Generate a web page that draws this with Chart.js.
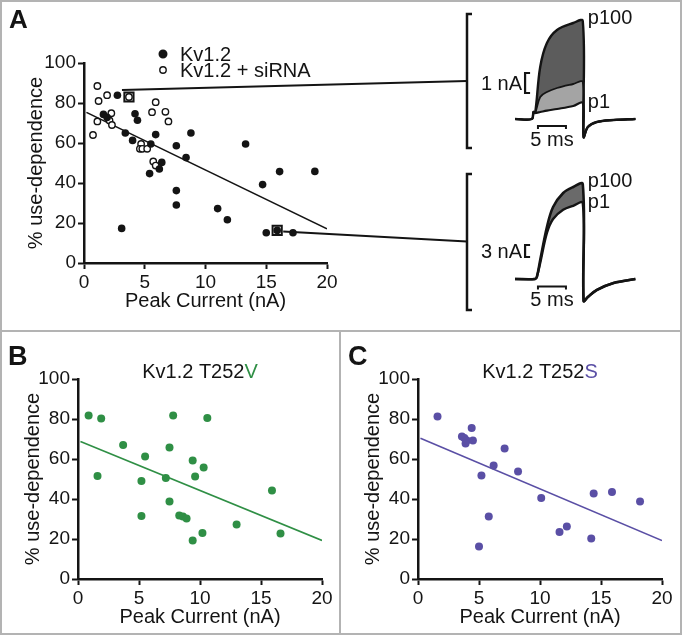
<!DOCTYPE html>
<html>
<head>
<meta charset="utf-8">
<title>Use-dependence vs peak current</title>
<script src="https://cdn.jsdelivr.net/npm/chart.js@4.4.1/dist/chart.umd.min.js"></script>
<style>
  body { margin: 0; background: #fff; }
  #wrap { position: relative; width: 682px; height: 635px; overflow: hidden; background: #fff; }
  canvas { position: absolute; }
  .rule { position: absolute; background: #b3b3b3; }
</style>
</head>
<body>
<div id="wrap">
  <canvas id="chartA" width="480" height="330" style="left:0;top:0"></canvas>
  <canvas id="traceTop" width="212" height="165" style="left:470px;top:0"></canvas>
  <canvas id="traceBottom" width="212" height="160" style="left:470px;top:160px"></canvas>
  <canvas id="chartB" width="340" height="304" style="left:0;top:331px"></canvas>
  <canvas id="chartC" width="342" height="304" style="left:340px;top:331px"></canvas>
  <div class="rule" style="left:0;top:0;width:682px;height:2px"></div>
  <div class="rule" style="left:0;top:0;width:2px;height:635px"></div>
  <div class="rule" style="left:680px;top:0;width:2px;height:635px"></div>
  <div class="rule" style="left:0;top:633px;width:682px;height:2px"></div>
  <div class="rule" style="left:0;top:330px;width:682px;height:2px"></div>
  <div class="rule" style="left:339px;top:331px;width:2px;height:304px"></div>
</div>
<script>
// ---- panel A: Kv1.2 (filled) and Kv1.2 + siRNA (open) ----
const kvCurrent = [2.75, 1.6, 1.9, 4.2, 4.4, 3.4, 4.0, 5.5, 5.9, 8.8, 7.6, 8.4, 13.3, 5.4, 6.2, 6.4, 14.7, 16.1, 19.0, 7.6, 7.6, 11.0, 11.8, 3.1, 15.0, 15.9, 17.2];
const kvUse     = [83.9, 74.3, 72.8, 74.6, 71.4, 65, 61.3, 59.5, 64.2, 65, 58.6, 52.7, 59.5, 44.7, 47, 50.3, 39.2, 45.7, 45.8, 36.2, 29, 27.2, 21.6, 17.3, 15.1, 16.3, 15.1];
const siCurrent = [1.1, 1.2, 1.9, 3.7, 1.1, 2.25, 2.1, 2.3, 0.74, 5.6, 5.9, 6.7, 6.95, 4.7, 4.6, 4.8, 5.2, 5.7, 5.9];
const siUse     = [88.5, 81, 83.9, 83, 70.8, 74.9, 71.3, 69, 64, 75.4, 80.4, 75.6, 70.8, 59.5, 57.1, 57.1, 57.1, 50.8, 48.7];
const boxCurrent = [3.7, 15.9];   // cells whose traces are shown on the right
const boxUse     = [83, 16.3];
const fitACurrent = [0.2, 20];
const fitAUse     = [75.3, 17.1];

// ---- panel B: Kv1.2 T252V ----
const vCurrent = [0.87, 1.9, 1.6, 3.7, 5.5, 5.2, 5.2, 7.8, 7.5, 7.2, 7.5, 8.3, 8.6, 8.9, 9.4, 9.6, 9.4, 10.6, 10.3, 10.2, 13.0, 15.9, 16.6];
const vUse     = [81.7, 80.3, 51.5, 67, 61.2, 49, 31.5, 81.7, 65.7, 50.5, 38.8, 31.7, 31.3, 30.2, 59.3, 51.3, 19.3, 80.5, 55.7, 23, 27.2, 44.2, 22.7];
const fitVCurrent = [0.2, 20];
const fitVUse     = [68.7, 19.3];

// ---- panel C: Kv1.2 T252S ----
const sCurrent = [1.6, 3.6, 3.8, 4.0, 3.9, 4.4, 4.5, 5.2, 5.0, 5.8, 6.2, 7.1, 8.2, 10.1, 11.6, 12.2, 14.2, 14.4, 15.9, 18.2];
const sUse     = [81.3, 71.2, 70.5, 69.3, 67.7, 75.5, 69.3, 51.7, 16.2, 31.2, 56.8, 65.3, 53.7, 40.5, 23.5, 26.2, 20.3, 42.8, 43.5, 38.7];
const fitSCurrent = [0.2, 20];
const fitSUse     = [70.4, 19.2];

// ---- example current traces (time in ms, current in nA) ----
const topTime  = [0, 3.0, 3.3, 3.6, 4.5, 5.7, 7.5, 10.4, 12.1, 12.25, 13.0, 14.6, 17.6, 21.5];
const topP100  = [0, 0, 0.35, 0.3, 2.6, 3.8, 4.45, 4.8, 4.9, -0.9, -0.4, -0.15, -0.05, 0];
const topMid   = [0, 0, 0.35, 0.3, 1.1, 1.35, 1.55, 1.75, 1.85, -0.9, -0.4, -0.15, -0.05, 0];
const topP1    = [0, 0, 0.35, 0.3, 0.35, 0.42, 0.5, 0.65, 0.8, -0.9, -0.4, -0.15, -0.05, 0];
const botTime  = [0, 3.6, 3.9, 4.5, 5.7, 6.8, 8.6, 10.4, 12.1, 12.25, 13.0, 14.6, 17.6, 21.5];
const botP100  = [0, 0, 0.5, 4.75, 13, 18, 21.5, 23, 23.75, -5.5, -4.5, -2.75, -1, 0];
const botP1    = [0, 0, 0.5, 4, 11.5, 15, 17.3, 18.3, 19, -5.5, -4.5, -2.75, -1, 0];

const INK = '#141414';
const GREEN = '#2f8f45';
const PURPLE = '#5a4fa5';
const FONT = "'Liberation Sans', Arial, Helvetica, sans-serif";

const pts = (xs, ys) => xs.map((x, i) => ({ x: x, y: ys[i] }));

function panelScales(yWidth, xHeight, yTitlePad, xTitlePad) {
  const grid = { drawOnChartArea: false, tickLength: 6, tickWidth: 2, tickColor: INK };
  const border = { width: 2.5, color: INK };
  const tickFont = { family: FONT, size: 19 };
  const titleFont = { family: FONT, size: 20 };
  return {
    x: {
      type: 'linear', min: 0, max: 20,
      grid: grid, border: border,
      ticks: { stepSize: 5, color: INK, font: tickFont, padding: 2, maxRotation: 0 },
      title: { display: true, text: 'Peak Current (nA)', color: INK, font: titleFont, padding: { top: 0, bottom: xTitlePad } },
      afterFit(s) { s.height = xHeight; }
    },
    y: {
      type: 'linear', min: 0, max: 100,
      grid: grid, border: border,
      ticks: { stepSize: 20, color: INK, font: tickFont, padding: 2 },
      title: { display: true, text: '% use-dependence', color: INK, font: titleFont, padding: { top: yTitlePad, bottom: 0 } },
      afterFit(s) { s.width = yWidth; }
    }
  };
}

function fitLine(label, xs, ys, color) {
  return { label: label, data: pts(xs, ys), showLine: true, borderColor: color, borderWidth: 1.6, pointRadius: 0, fill: false };
}

// title + panel letter for B and C
function headerPlugin(letter, base, accent, color) {
  return {
    id: 'header' + letter,
    afterDraw(chart) {
      const { ctx, chartArea } = chart;
      ctx.save();
      ctx.fillStyle = INK;
      ctx.textAlign = 'left';
      ctx.textBaseline = 'alphabetic';
      ctx.font = `bold 27px ${FONT}`;
      ctx.fillText(letter, 8, 34);
      ctx.font = `20px ${FONT}`;
      const w1 = ctx.measureText(base).width;
      const w2 = ctx.measureText(accent).width;
      const cx = (chartArea.left + chartArea.right) / 2;
      const x0 = cx - (w1 + w2) / 2;
      ctx.fillText(base, x0, 47);
      ctx.fillStyle = color;
      ctx.fillText(accent, x0 + w1, 47);
      ctx.restore();
    }
  };
}

// ---- panel A extras: letter, legend, brackets and connectors to traces ----
const panelAExtras = {
  id: 'panelAExtras',
  afterDraw(chart) {
    const { ctx, chartArea, scales } = chart;
    const ds = chart.data.datasets;
    ctx.save();
    ctx.fillStyle = INK;
    ctx.textAlign = 'left';
    ctx.textBaseline = 'alphabetic';
    ctx.font = `bold 26px ${FONT}`;
    ctx.fillText('A', 9, 28);

    // legend
    ctx.font = `20px ${FONT}`;
    ctx.textBaseline = 'middle';
    const lx = chartArea.left + 79;
    [[0, 54], [1, 70]].forEach(([i, ly]) => {
      ctx.beginPath();
      ctx.arc(lx, ly, i === 0 ? 3.8 : 3.2, 0, Math.PI * 2);
      ctx.fillStyle = ds[i].backgroundColor;
      ctx.fill();
      ctx.lineWidth = 1.4;
      ctx.strokeStyle = INK;
      ctx.stroke();
      ctx.fillStyle = INK;
      ctx.fillText(ds[i].label, lx + 17, ly + 1);
    });

    // brackets that group each trace pair
    ctx.strokeStyle = INK;
    ctx.lineWidth = 2.5;
    [[14, 148], [174, 310]].forEach(([t, b]) => {
      ctx.beginPath();
      ctx.moveTo(472, t); ctx.lineTo(467, t); ctx.lineTo(467, b); ctx.lineTo(472, b);
      ctx.stroke();
    });

    // connectors from the boxed cells
    const bx0 = scales.x.getPixelForValue(boxCurrent[0]);
    const by0 = scales.y.getPixelForValue(boxUse[0]);
    const bx1 = scales.x.getPixelForValue(boxCurrent[1]);
    const by1 = scales.y.getPixelForValue(boxUse[1]);
    ctx.lineWidth = 2;
    ctx.beginPath(); ctx.moveTo(bx0 - 7, by0 - 7); ctx.lineTo(467, 81); ctx.stroke();
    ctx.beginPath(); ctx.moveTo(bx1 + 6, by1 + 1); ctx.lineTo(467, 241.5); ctx.stroke();
    ctx.restore();
  }
};

new Chart(document.getElementById('chartA'), {
  type: 'scatter',
  data: {
    datasets: [
      { label: 'Kv1.2', data: pts(kvCurrent, kvUse), backgroundColor: INK, borderColor: INK, pointRadius: 3.8, borderWidth: 0 },
      { label: 'Kv1.2 + siRNA', data: pts(siCurrent, siUse), backgroundColor: '#ffffff', borderColor: INK, pointRadius: 3.2, borderWidth: 1.4 },
      { label: 'shown traces', data: pts(boxCurrent, boxUse), pointStyle: 'rect', pointRadius: 6.5, backgroundColor: 'rgba(0,0,0,0)', borderColor: INK, borderWidth: 2 },
      fitLine('fit', fitACurrent, fitAUse, INK)
    ]
  },
  options: {
    responsive: false, animation: false,
    layout: { padding: { left: 0, top: 63, right: 153, bottom: 0 } },
    scales: panelScales(84, 67, 24, 17),
    plugins: { legend: { display: false }, tooltip: { enabled: false } }
  },
  plugins: [panelAExtras]
});

new Chart(document.getElementById('chartB'), {
  type: 'scatter',
  data: {
    datasets: [
      { label: 'Kv1.2 T252V', data: pts(vCurrent, vUse), backgroundColor: GREEN, borderColor: GREEN, pointRadius: 4, borderWidth: 0 },
      fitLine('fit', fitVCurrent, fitVUse, GREEN)
    ]
  },
  options: {
    responsive: false, animation: false,
    layout: { padding: { left: 0, top: 48, right: 18, bottom: 0 } },
    scales: panelScales(78, 56, 21, 6),
    plugins: { legend: { display: false }, tooltip: { enabled: false } }
  },
  plugins: [headerPlugin('B', 'Kv1.2 T252', 'V', GREEN)]
});

new Chart(document.getElementById('chartC'), {
  type: 'scatter',
  data: {
    datasets: [
      { label: 'Kv1.2 T252S', data: pts(sCurrent, sUse), backgroundColor: PURPLE, borderColor: PURPLE, pointRadius: 4, borderWidth: 0 },
      fitLine('fit', fitSCurrent, fitSUse, PURPLE)
    ]
  },
  options: {
    responsive: false, animation: false,
    layout: { padding: { left: 0, top: 48, right: 20, bottom: 0 } },
    scales: panelScales(78, 56, 21, 6),
    plugins: { legend: { display: false }, tooltip: { enabled: false } }
  },
  plugins: [headerPlugin('C', 'Kv1.2 T252', 'S', PURPLE)]
});

// ---- trace insets ----
function traceLabels(opts) {
  return {
    id: 'traceLabels',
    afterDraw(chart) {
      const { ctx, scales: { x, y } } = chart;
      ctx.save();
      ctx.strokeStyle = INK;
      ctx.fillStyle = INK;
      ctx.lineWidth = 2;
      ctx.font = `20px ${FONT}`;
      // time scale bar
      const x0 = x.getPixelForValue(opts.barStart);
      const x1 = x.getPixelForValue(opts.barStart + 5);
      const yb = y.getPixelForValue(opts.barLevel);
      ctx.beginPath();
      ctx.moveTo(x0, yb + 3); ctx.lineTo(x0, yb); ctx.lineTo(x1, yb); ctx.lineTo(x1, yb + 3);
      ctx.stroke();
      ctx.textAlign = 'center';
      ctx.textBaseline = 'top';
      ctx.fillText('5 ms', (x0 + x1) / 2, yb + 4);
      // current scale bracket
      const bx = x.getPixelForValue(opts.ampAt);
      const ya = y.getPixelForValue(opts.ampFrom);
      const yc = y.getPixelForValue(opts.ampFrom + opts.ampSize);
      ctx.lineWidth = 2.2;
      ctx.beginPath();
      ctx.moveTo(bx + 5, yc); ctx.lineTo(bx, yc); ctx.lineTo(bx, ya); ctx.lineTo(bx + 5, ya);
      ctx.stroke();
      ctx.textAlign = 'right';
      ctx.textBaseline = 'middle';
      ctx.fillText(opts.ampSize + ' nA', bx - 3, (ya + yc) / 2 + 1);
      // sweep labels
      ctx.textAlign = 'left';
      ctx.textBaseline = 'middle';
      const xe = x.getPixelForValue(opts.endTime) + 5;
      ctx.fillText('p100', xe, y.getPixelForValue(opts.p100End) - 3);
      ctx.fillText('p1', xe, y.getPixelForValue(opts.p1End) - 1);
      ctx.restore();
    }
  };
}

function traceChart(id, time, sets, yMin, yMax, pad, labelOpts) {
  return new Chart(document.getElementById(id), {
    type: 'scatter',
    data: {
      datasets: sets.map(s => ({
        label: s.label, data: pts(time, s.values), showLine: true,
        borderColor: INK, borderWidth: s.width, pointRadius: 0,
        fill: s.fill, backgroundColor: s.shade || 'rgba(0,0,0,0)', tension: 0.35
      }))
    },
    options: {
      responsive: false, animation: false,
      layout: { padding: pad },
      scales: {
        x: { type: 'linear', min: 0, max: 24, display: false },
        y: { type: 'linear', min: yMin, max: yMax, display: false }
      },
      plugins: { legend: { display: false }, tooltip: { enabled: false }, filler: { drawTime: 'beforeDatasetsDraw' } }
    },
    plugins: [traceLabels(labelOpts)]
  });
}

traceChart('traceTop', topTime, [
  { label: 'p100', values: topP100, width: 2.4, fill: 1, shade: '#5c5c5c' },
  { label: 'intermediate', values: topMid, width: 1.8, fill: 2, shade: '#a4a4a4' },
  { label: 'p1', values: topP1, width: 2.2, fill: false }
], -1.5, 5.5, { left: 45, top: 9, right: 32.6, bottom: 16 },
{ barStart: 4.1, barLevel: -0.35, ampAt: 1.8, ampFrom: 1.3, ampSize: 1, endTime: 12.1, p100End: 4.9, p1End: 0.8 });

traceChart('traceBottom', botTime, [
  { label: 'p100', values: botP100, width: 2.6, fill: 1, shade: '#6a6a6a' },
  { label: 'p1', values: botP1, width: 2.4, fill: false }
], -6.5, 25.5, { left: 45, top: 17, right: 32.6, bottom: 15 },
{ barStart: 4.1, barLevel: -1.9, ampAt: 1.8, ampFrom: 5.5, ampSize: 3, endTime: 12.1, p100End: 23.75, p1End: 19 });
</script>
</body>
</html>
